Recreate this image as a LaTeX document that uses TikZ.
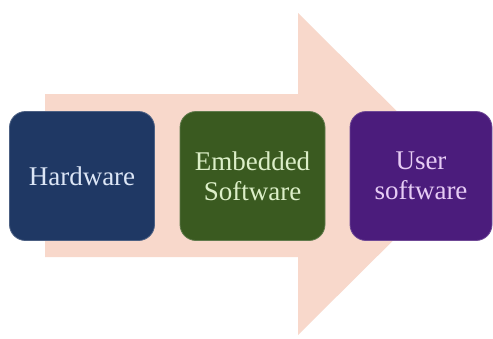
\documentclass[tikz,border=0pt]{standalone}
\usepackage{fontspec}
\setmainfont{Liberation Serif}
\begin{document}
\begin{tikzpicture}[x=1pt,y=-1pt,
  box/.style={rounded corners=16pt, minimum width=145pt, minimum height=129pt,
    inner sep=0pt, align=center, font=\fontsize{27}{30}\selectfont, draw=#1!80!white, line width=0.8pt},
]
\definecolor{arrowc}{HTML}{F8D8CB}
\definecolor{hwc}{HTML}{1F3864}
\definecolor{esc}{HTML}{3A5A20}
\definecolor{usc}{HTML}{4B1C7C}
\definecolor{hwt}{HTML}{DCE6F6}
\definecolor{est}{HTML}{DCEFC8}
\definecolor{ust}{HTML}{E6CCF4}
\fill[white] (0,0) rectangle (493,338);
\useasboundingbox (0,0) rectangle (493,338);
\fill[arrowc] (45,94) -- (298,94) -- (298,13) -- (460,174) -- (298,335) -- (298,257) -- (45,257) -- cycle;
\node[box=hwc, fill=hwc, text=hwt] (hw) at (82,176) {Hardware};
\node[box=esc, fill=esc, text=est] (es) at (252.5,176) {Embedded\\Software};
\node[box=usc, fill=usc, text=ust, minimum width=142pt] (us) at (421,176) {User\\software};
\end{tikzpicture}
\end{document}
